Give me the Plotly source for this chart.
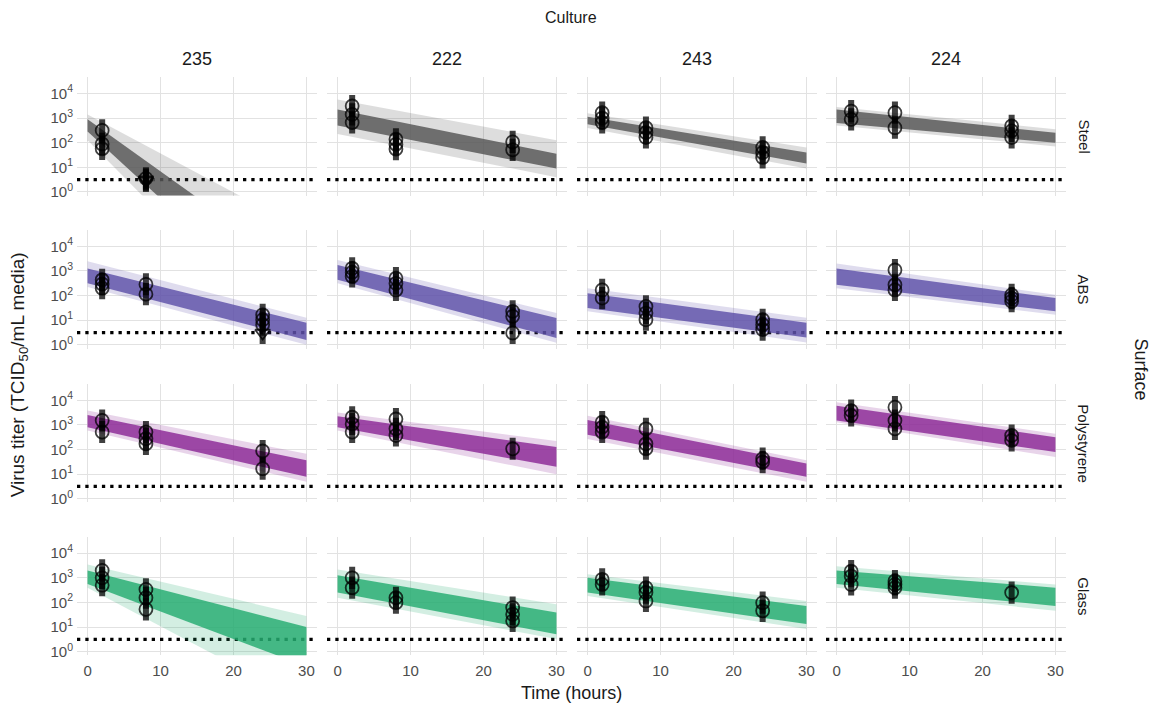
import plotly.graph_objects as go

# ---------------- data (log10 TCID50/mL) ----------------
CULTURES = ["235", "222", "243", "224"]
SURFACES = ["Steel", "ABS", "Polystyrene", "Glass"]
X_TICKS = [0, 10, 20, 30]
Y_TICK_LOG10 = [0, 1, 2, 3, 4]
Y_TICK_TEXT = ["10<sup>0</sup>", "10<sup>1</sup>", "10<sup>2</sup>", "10<sup>3</sup>", "10<sup>4</sup>"]
LOD_LOG10 = 0.5          # detection limit
ERR_LOG10 = 0.45         # half-width of measurement error bars
PRED_TIMES = [0, 30]     # prediction band start / end (hours)

# posterior band edges (lo, hi) at t=0 and t=30, per culture in CULTURES order
BAND_T0_OUTER = {
    "Steel": [(2.10, 3.15), (2.35, 3.75), (2.60, 3.20), (2.70, 3.45)],
    "ABS": [(2.35, 3.40), (2.50, 3.45), (1.36, 2.30), (2.30, 3.30)],
    "Polystyrene": [(2.77, 3.58), (2.77, 3.50), (2.43, 3.37), (3.11, 3.92)],
    "Glass": [(2.60, 3.54), (2.19, 3.34), (2.26, 3.14), (2.60, 3.47)],
}
BAND_T0_INNER = {
    "Steel": [(2.45, 2.95), (2.70, 3.35), (2.75, 3.05), (2.80, 3.35)],
    "ABS": [(2.50, 3.10), (2.64, 3.24), (1.50, 2.10), (2.44, 3.10)],
    "Polystyrene": [(2.90, 3.40), (2.90, 3.35), (2.60, 3.20), (3.18, 3.78)],
    "Glass": [(2.75, 3.30), (2.40, 3.10), (2.40, 3.00), (2.75, 3.30)],
}
BAND_T30_OUTER = {
    "Steel": [(-6.9, -1.6), (0.60, 2.10), (0.95, 1.80), (1.85, 2.55)],
    "ABS": [(0.00, 1.10), (0.08, 1.29), (0.10, 1.10), (1.22, 2.03)],
    "Polystyrene": [(0.69, 1.83), (1.00, 2.35), (0.69, 1.56), (1.70, 2.64)],
    "Glass": [(-2.1, 1.45), (0.51, 1.93), (0.92, 2.06), (1.66, 2.73)],
}
BAND_T30_INNER = {
    "Steel": [(-5.7, -3.4), (0.95, 1.55), (1.15, 1.60), (2.00, 2.40)],
    "ABS": [(0.20, 0.90), (0.28, 1.09), (0.30, 0.90), (1.36, 1.90)],
    "Polystyrene": [(0.89, 1.56), (1.30, 2.10), (0.89, 1.43), (1.90, 2.50)],
    "Glass": [(-0.6, 1.00), (0.71, 1.59), (1.12, 1.86), (1.86, 2.60)],
}

# observed titers: (time h, log10 titer), per culture
STEEL_OBS = {
    "235": [(2, 2.50), (2, 1.95), (2, 1.75), (8, 0.55)],
    "222": [(2, 3.49), (2, 3.15), (2, 2.82), (8, 2.14), (8, 1.94), (8, 1.74), (24, 2.03), (24, 1.71)],
    "243": [(2, 3.22), (2, 3.00), (2, 2.82), (8, 2.61), (8, 2.41), (8, 2.21), (24, 1.81), (24, 1.60), (24, 1.40)],
    "224": [(2, 3.28), (2, 2.95), (8, 3.22), (8, 2.61), (24, 2.68), (24, 2.48), (24, 2.21)],
}
ABS_OBS = {
    "235": [(2, 2.64), (2, 2.47), (2, 2.30), (8, 2.46), (8, 2.06), (24, 1.22), (24, 1.02), (24, 0.82)],
    "222": [(2, 3.11), (2, 2.95), (2, 2.78), (8, 2.71), (8, 2.50), (8, 2.23), (24, 1.36), (24, 1.16), (24, 0.48)],
    "243": [(2, 2.23), (2, 1.90), (8, 1.56), (8, 1.29), (8, 1.02), (24, 1.02), (24, 0.82), (24, 0.62)],
    "224": [(8, 3.04), (8, 2.44), (8, 2.23), (24, 2.03), (24, 1.90), (24, 1.77)],
}
POLYSTYRENE_OBS = {
    "235": [(2, 3.18), (2, 2.71), (8, 2.71), (8, 2.44), (8, 2.23), (24, 1.94), (24, 1.22)],
    "222": [(2, 3.31), (2, 3.04), (2, 2.71), (8, 3.24), (8, 2.84), (8, 2.57), (24, 2.03)],
    "243": [(2, 3.11), (2, 2.91), (2, 2.71), (8, 2.84), (8, 2.23), (8, 2.03), (24, 1.63), (24, 1.49)],
    "224": [(2, 3.58), (2, 3.38), (8, 3.72), (8, 3.18), (8, 2.84), (24, 2.57), (24, 2.37)],
}
GLASS_OBS = {
    "235": [(2, 3.30), (2, 3.00), (2, 2.70), (8, 2.53), (8, 2.19), (8, 1.72)],
    "222": [(2, 3.00), (2, 2.60), (8, 2.19), (8, 1.99), (24, 1.79), (24, 1.52), (24, 1.25)],
    "243": [(2, 2.94), (2, 2.73), (8, 2.60), (8, 2.40), (8, 2.06), (24, 1.99), (24, 1.66)],
    "224": [(2, 3.27), (2, 3.07), (2, 2.73), (8, 2.87), (8, 2.73), (8, 2.60), (24, 2.40)],
}
# below-detection samples: (surface, culture, time h, log10 titer at LOD)
BELOW_LOD = [("Steel", "235", 8, 0.50), ("Steel", "235", 8, 0.45), ("ABS", "235", 24, 0.48)]

OBS = {"Steel": STEEL_OBS, "ABS": ABS_OBS, "Polystyrene": POLYSTYRENE_OBS, "Glass": GLASS_OBS}

# ---------------- styling ----------------
SURFACE_RGB = {"Steel": "85,85,85", "ABS": "94,80,168", "Polystyrene": "139,40,150", "Glass": "36,172,112"}
W, H = 1163, 711
COL_LEFT = [77, 327, 577, 826]
COL_W = 240
ROW_TOP = [78, 232, 387, 541]
ROW_H = 119
X_RANGE = [-1.45, 31.45]
Y_RANGE = [-0.15, 4.65]
FONT = "Liberation Sans, Arial, sans-serif"
GRID = "#e2e2e2"
TICK_FONT = dict(size=15, color="#4d4d4d", family=FONT)

fig = go.Figure()
layout_axes = {}
annotations = []

def px_x(p):
    return p / W

def px_y(p):
    return 1 - p / H

for r, surf in enumerate(SURFACES):
    for c, cult in enumerate(CULTURES):
        k = r * 4 + c + 1
        xa, ya = f"x{k}", f"y{k}"
        xname = "xaxis" if k == 1 else f"xaxis{k}"
        yname = "yaxis" if k == 1 else f"yaxis{k}"
        layout_axes[xname] = dict(
            domain=[px_x(COL_LEFT[c]), px_x(COL_LEFT[c] + COL_W)], anchor=ya,
            range=X_RANGE, tickvals=X_TICKS, showticklabels=(r == 3),
            showgrid=True, gridcolor=GRID, gridwidth=1, zeroline=False, showline=False,
            ticks="", tickfont=TICK_FONT, ticklabelstandoff=5,
        )
        layout_axes[yname] = dict(
            domain=[px_y(ROW_TOP[r] + ROW_H), px_y(ROW_TOP[r])], anchor=xa,
            type="log", range=Y_RANGE, tickvals=[10 ** v for v in Y_TICK_LOG10],
            ticktext=Y_TICK_TEXT, showticklabels=(c == 0),
            showgrid=True, gridcolor=GRID, gridwidth=1, zeroline=False, showline=False,
            ticks="", tickfont=TICK_FONT, ticklabelstandoff=3,
        )
        rgb = SURFACE_RGB[surf]

        # detection limit (dotted)
        fig.add_trace(go.Scatter(
            x=X_RANGE, y=[10 ** LOD_LOG10] * 2, xaxis=xa, yaxis=ya, mode="lines",
            line=dict(color="black", width=3.3, dash="3.3px,5px"), hoverinfo="skip", showlegend=False))

        # posterior bands
        for t0_band, t30_band, alpha in ((BAND_T0_OUTER, BAND_T30_OUTER, 0.2),
                                        (BAND_T0_INNER, BAND_T30_INNER, 0.82)):
            lo0, hi0 = t0_band[surf][c]
            lo1, hi1 = t30_band[surf][c]
            fig.add_trace(go.Scatter(
                x=[PRED_TIMES[0], PRED_TIMES[1], PRED_TIMES[1], PRED_TIMES[0]],
                y=[10 ** lo0, 10 ** lo1, 10 ** hi1, 10 ** hi0],
                xaxis=xa, yaxis=ya, mode="lines", fill="toself",
                fillcolor=f"rgba({rgb},{alpha})", line=dict(width=0),
                hoverinfo="skip", showlegend=False))

        obs = OBS[surf][cult]
        cens = [(t, v) for (s, cu, t, v) in BELOW_LOD if s == surf and cu == cult]
        # error bars
        ex, ey = [], []
        for t, v in obs + cens:
            ex += [t, t, None]
            ey += [10 ** (v - ERR_LOG10), 10 ** (v + ERR_LOG10), None]
        fig.add_trace(go.Scatter(
            x=ex, y=ey, xaxis=xa, yaxis=ya, mode="lines",
            line=dict(color="rgba(0,0,0,0.75)", width=6), hoverinfo="skip", showlegend=False))
        # points
        fig.add_trace(go.Scatter(
            x=[t for t, v in obs], y=[10 ** v for t, v in obs], xaxis=xa, yaxis=ya, mode="markers",
            marker=dict(symbol="circle-open", size=13, color="rgba(0,0,0,0.75)", line=dict(width=1.8)),
            hoverinfo="skip", showlegend=False))
        if cens:
            fig.add_trace(go.Scatter(
                x=[t for t, v in cens], y=[10 ** v for t, v in cens], xaxis=xa, yaxis=ya, mode="markers",
                marker=dict(symbol="triangle-down-open", size=13, color="rgba(0,0,0,0.8)", line=dict(width=1.8)),
                hoverinfo="skip", showlegend=False))

def label(text, x, y, size, angle=0):
    return dict(text=text, x=px_x(x), y=px_y(y), xref="paper", yref="paper", showarrow=False,
                xanchor="center", yanchor="middle", textangle=angle,
                font=dict(size=size, color="#1a1a1a", family=FONT))

# facet strip labels
for c, cult in enumerate(CULTURES):
    annotations.append(label(cult, COL_LEFT[c] + COL_W / 2, 59, 18))
for r, surf in enumerate(SURFACES):
    annotations.append(label(surf, 1084, ROW_TOP[r] + ROW_H / 2, 15, 90))
annotations += [
    label("Culture", 571, 18, 16),
    label("Surface", 1141, 372, 18, 90),
    label("Time (hours)", 571, 698, 18),
    label("Virus titer (TCID<sub>50</sub>/mL media)", 19, 378, 19, -90),
]

fig.update_layout(
    width=W, height=H, margin=dict(l=0, r=0, t=0, b=0),
    paper_bgcolor="white", plot_bgcolor="white", showlegend=False,
    annotations=annotations, font=dict(family=FONT), **layout_axes,
)
fig.write_html("out.html", config={"displayModeBar": False},
               post_script="document.body.style.margin='0';document.body.style.overflow='hidden';")
